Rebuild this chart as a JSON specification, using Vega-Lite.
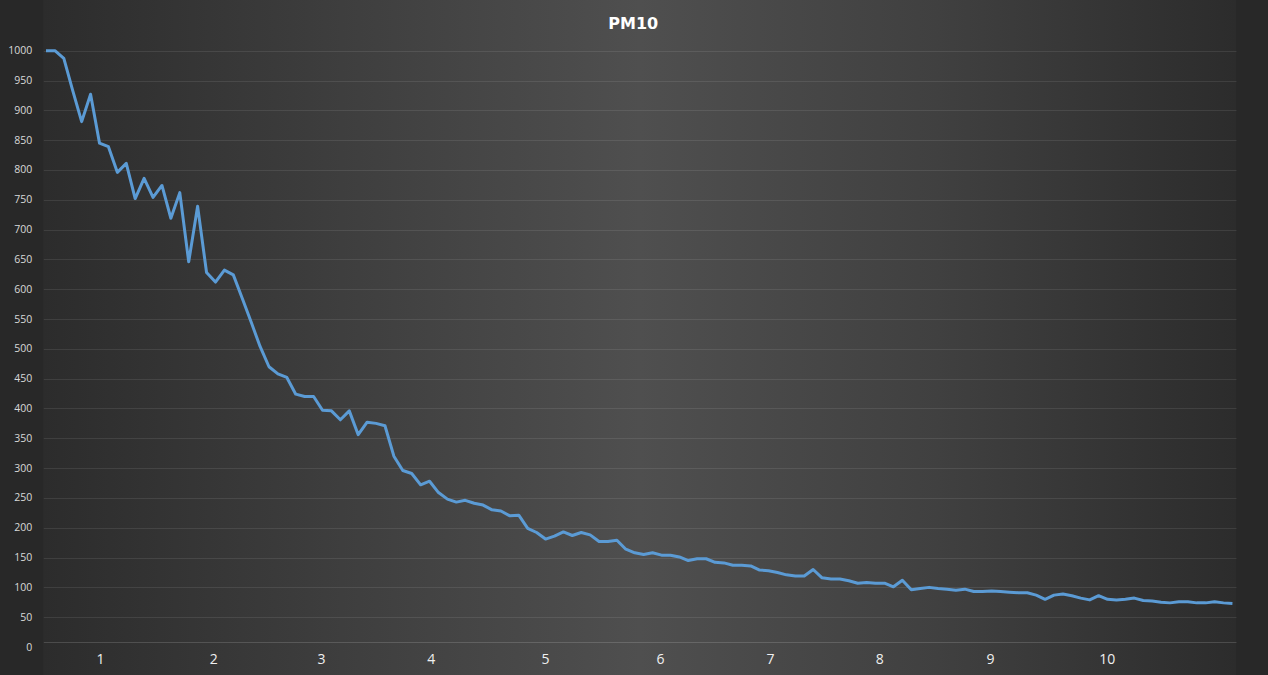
{
  "$schema": "https://vega.github.io/schema/vega-lite/v6.json",
  "width": 1192.7,
  "height": 675,
  "autosize": {"type": "none"},
  "padding": {"left": 43.3, "right": 32, "top": 0, "bottom": 0},
  "background": "#282828",
  "view": {
    "stroke": null,
    "fill": {
      "gradient": "linear", "x1": 0, "y1": 0, "x2": 1, "y2": 0,
      "stops": [
        {"offset": 0, "color": "#2c2c2c"},
        {"offset": 0.25, "color": "#3e3e3e"},
        {"offset": 0.5, "color": "#4f4f4f"},
        {"offset": 0.75, "color": "#404040"},
        {"offset": 1, "color": "#2c2c2c"}
      ]
    }
  },
  "title": {
    "text": "PM10",
    "offset": -32,
    "dx": -6.4,
    "font": "DejaVu Sans",
    "fontWeight": "bold",
    "fontSize": 16,
    "color": "#ffffff"
  },
  "data": {
    "values": [
      {"i": 0, "pm10": 1000}, {"i": 1, "pm10": 1000}, {"i": 2, "pm10": 987}, {"i": 3, "pm10": 933},
      {"i": 4, "pm10": 881}, {"i": 5, "pm10": 927}, {"i": 6, "pm10": 845}, {"i": 7, "pm10": 839},
      {"i": 8, "pm10": 796}, {"i": 9, "pm10": 811}, {"i": 10, "pm10": 752}, {"i": 11, "pm10": 786},
      {"i": 12, "pm10": 754}, {"i": 13, "pm10": 774}, {"i": 14, "pm10": 719}, {"i": 15, "pm10": 762},
      {"i": 16, "pm10": 646}, {"i": 17, "pm10": 739}, {"i": 18, "pm10": 628}, {"i": 19, "pm10": 612},
      {"i": 20, "pm10": 632}, {"i": 21, "pm10": 624}, {"i": 22, "pm10": 585}, {"i": 23, "pm10": 545},
      {"i": 24, "pm10": 504}, {"i": 25, "pm10": 470}, {"i": 26, "pm10": 458}, {"i": 27, "pm10": 452},
      {"i": 28, "pm10": 424}, {"i": 29, "pm10": 420}, {"i": 30, "pm10": 420}, {"i": 31, "pm10": 397},
      {"i": 32, "pm10": 396}, {"i": 33, "pm10": 381}, {"i": 34, "pm10": 396}, {"i": 35, "pm10": 356},
      {"i": 36, "pm10": 377}, {"i": 37, "pm10": 375}, {"i": 38, "pm10": 371}, {"i": 39, "pm10": 320},
      {"i": 40, "pm10": 296}, {"i": 41, "pm10": 291}, {"i": 42, "pm10": 272}, {"i": 43, "pm10": 278},
      {"i": 44, "pm10": 259}, {"i": 45, "pm10": 248}, {"i": 46, "pm10": 243}, {"i": 47, "pm10": 246},
      {"i": 48, "pm10": 241}, {"i": 49, "pm10": 238}, {"i": 50, "pm10": 230}, {"i": 51, "pm10": 228},
      {"i": 52, "pm10": 220}, {"i": 53, "pm10": 221}, {"i": 54, "pm10": 199}, {"i": 55, "pm10": 192},
      {"i": 56, "pm10": 181}, {"i": 57, "pm10": 186}, {"i": 58, "pm10": 193}, {"i": 59, "pm10": 187},
      {"i": 60, "pm10": 192}, {"i": 61, "pm10": 188}, {"i": 62, "pm10": 177}, {"i": 63, "pm10": 177},
      {"i": 64, "pm10": 179}, {"i": 65, "pm10": 164}, {"i": 66, "pm10": 158}, {"i": 67, "pm10": 155},
      {"i": 68, "pm10": 158}, {"i": 69, "pm10": 154}, {"i": 70, "pm10": 154}, {"i": 71, "pm10": 151},
      {"i": 72, "pm10": 145}, {"i": 73, "pm10": 148}, {"i": 74, "pm10": 148}, {"i": 75, "pm10": 142},
      {"i": 76, "pm10": 141}, {"i": 77, "pm10": 137}, {"i": 78, "pm10": 137}, {"i": 79, "pm10": 136},
      {"i": 80, "pm10": 129}, {"i": 81, "pm10": 128}, {"i": 82, "pm10": 125}, {"i": 83, "pm10": 121},
      {"i": 84, "pm10": 119}, {"i": 85, "pm10": 119}, {"i": 86, "pm10": 130}, {"i": 87, "pm10": 116},
      {"i": 88, "pm10": 114}, {"i": 89, "pm10": 114}, {"i": 90, "pm10": 111}, {"i": 91, "pm10": 107},
      {"i": 92, "pm10": 108}, {"i": 93, "pm10": 107}, {"i": 94, "pm10": 107}, {"i": 95, "pm10": 101},
      {"i": 96, "pm10": 112}, {"i": 97, "pm10": 96}, {"i": 98, "pm10": 98}, {"i": 99, "pm10": 100},
      {"i": 100, "pm10": 98}, {"i": 101, "pm10": 97}, {"i": 102, "pm10": 95}, {"i": 103, "pm10": 97},
      {"i": 104, "pm10": 93}, {"i": 105, "pm10": 93}, {"i": 106, "pm10": 94}, {"i": 107, "pm10": 93},
      {"i": 108, "pm10": 92}, {"i": 109, "pm10": 91}, {"i": 110, "pm10": 91}, {"i": 111, "pm10": 87},
      {"i": 112, "pm10": 80}, {"i": 113, "pm10": 87}, {"i": 114, "pm10": 89}, {"i": 115, "pm10": 86},
      {"i": 116, "pm10": 82}, {"i": 117, "pm10": 79}, {"i": 118, "pm10": 86}, {"i": 119, "pm10": 80},
      {"i": 120, "pm10": 79}, {"i": 121, "pm10": 80}, {"i": 122, "pm10": 82}, {"i": 123, "pm10": 78},
      {"i": 124, "pm10": 77}, {"i": 125, "pm10": 75}, {"i": 126, "pm10": 74}, {"i": 127, "pm10": 76},
      {"i": 128, "pm10": 76}, {"i": 129, "pm10": 74}, {"i": 130, "pm10": 74}, {"i": 131, "pm10": 76},
      {"i": 132, "pm10": 74}, {"i": 133, "pm10": 73}
    ]
  },
  "mark": {"type": "line", "color": "#5b9bd5", "strokeWidth": 3, "strokeJoin": "round"},
  "encoding": {
    "x": {
      "field": "i",
      "type": "quantitative",
      "scale": {"domain": [-0.3, 133.4], "nice": false, "zero": false},
      "axis": {
        "title": null,
        "values": [6.05, 18.76, 30.83, 43.13, 55.94, 68.83, 81.17, 93.42, 105.83, 118.91],
        "labelExpr": "'' + (indexof([6.05, 18.76, 30.83, 43.13, 55.94, 68.83, 81.17, 93.42, 105.83, 118.91], datum.value) + 1)",
        "offset": -33,
        "grid": false,
        "ticks": false,
        "tickSize": 0,
        "domain": true,
        "domainColor": "#ffffff",
        "domainOpacity": 0.15,
        "domainWidth": 1,
        "labelFont": "Open Sans",
        "labelFontSize": 14,
        "labelColor": "#f0f0f0",
        "labelBaseline": "middle",
        "labelPadding": 17,
        "labelFlush": false,
        "labelOverlap": false
      }
    },
    "y": {
      "field": "pm10",
      "type": "quantitative",
      "scale": {"domain": [0, 1000], "nice": false, "zero": true, "range": [647, 50.7]},
      "axis": {
        "title": null,
        "format": "d",
        "values": [0, 50, 100, 150, 200, 250, 300, 350, 400, 450, 500, 550, 600, 650, 700, 750, 800, 850, 900, 950, 1000],
        "domain": false,
        "ticks": false,
        "tickSize": 0,
        "grid": true,
        "gridColor": "#ffffff",
        "gridOpacity": {"condition": {"test": "datum.value === 0", "value": 0}, "value": 0.09},
        "gridWidth": 1,
        "labelFont": "Open Sans",
        "labelFontSize": 10.5,
        "labelColor": "#d9d9d9",
        "labelPadding": 11.6,
        "labelOverlap": false
      }
    }
  }
}
